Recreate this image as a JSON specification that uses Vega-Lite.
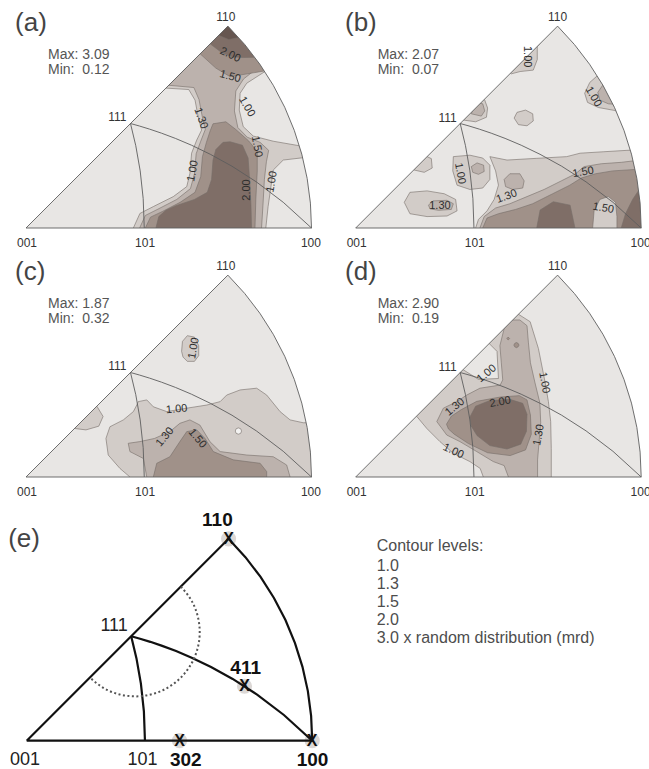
{
"$schema":"https://vega.github.io/schema/vega-lite/v6.json",
"background":"white",
"padding":0,
"spacing":0,
"config":{"view":{"stroke":null},"font":"Liberation Sans"},
"datasets":{
"geom":[
{"id":"tri","i":0,"x":0,"y":0},{"id":"tri","i":1,"x":1,"y":0},{"id":"tri","i":2,"x":0.99619,"y":0.08716},{"id":"tri","i":3,"x":0.98481,"y":0.17365},{"id":"tri","i":4,"x":0.96593,"y":0.25882},{"id":"tri","i":5,"x":0.93969,"y":0.34202},{"id":"tri","i":6,"x":0.90631,"y":0.42262},{"id":"tri","i":7,"x":0.86603,"y":0.5},{"id":"tri","i":8,"x":0.81915,"y":0.57358},{"id":"tri","i":9,"x":0.76604,"y":0.64279},{"id":"tri","i":10,"x":0.70711,"y":0.70711},{"id":"tri","i":11,"x":0,"y":0},
{"id":"g1","i":0,"x":0.4142,"y":0},{"id":"g1","i":1,"x":0.4105,"y":0.1026},{"id":"g1","i":2,"x":0.4,"y":0.2},{"id":"g1","i":3,"x":0.3845,"y":0.2883},{"id":"g1","i":4,"x":0.366,"y":0.366},
{"id":"g2","i":0,"x":1,"y":0},{"id":"g2","i":1,"x":0.9009,"y":0.0901},{"id":"g2","i":2,"x":0.807,"y":0.1614},{"id":"g2","i":3,"x":0.7214,"y":0.2164},{"id":"g2","i":4,"x":0.6456,"y":0.2582},{"id":"g2","i":5,"x":0.5798,"y":0.2899},{"id":"g2","i":6,"x":0.5232,"y":0.3139},{"id":"g2","i":7,"x":0.4746,"y":0.3322},{"id":"g2","i":8,"x":0.4329,"y":0.3463},{"id":"g2","i":9,"x":0.397,"y":0.3573},{"id":"g2","i":10,"x":0.366,"y":0.366}
],
"mask":[
{"i":0,"x":-0.06,"y":-0.04},{"i":1,"x":1.025,"y":-0.04},{"i":2,"x":1.025,"y":0.76},{"i":3,"x":-0.06,"y":0.76},{"i":4,"x":-0.06,"y":-0.04},{"i":5,"x":0,"y":0},{"i":6,"x":0.70711,"y":0.70711},{"i":7,"x":0.76604,"y":0.64279},{"i":8,"x":0.81915,"y":0.57358},{"i":9,"x":0.86603,"y":0.5},{"i":10,"x":0.90631,"y":0.42262},{"i":11,"x":0.93969,"y":0.34202},{"i":12,"x":0.96593,"y":0.25882},{"i":13,"x":0.98481,"y":0.17365},{"i":14,"x":0.99619,"y":0.08716},{"i":15,"x":1,"y":0},{"i":16,"x":0,"y":0}
],
"dc":[
{"i":0,"x":0.54,"y":0.54},{"i":1,"x":0.5758,"y":0.4933},{"i":2,"x":0.5983,"y":0.4389},{"i":3,"x":0.606,"y":0.3806},{"i":4,"x":0.5983,"y":0.3223},{"i":5,"x":0.5758,"y":0.2679},{"i":6,"x":0.54,"y":0.2212},{"i":7,"x":0.4933,"y":0.1854},{"i":8,"x":0.4389,"y":0.1629},{"i":9,"x":0.3806,"y":0.1552},{"i":10,"x":0.3223,"y":0.1629},{"i":11,"x":0.2679,"y":0.1854},{"i":12,"x":0.2212,"y":0.2212}
],
"pts":[
{"t":"110","x":0.7071,"y":0.7071},{"t":"411","x":0.763,"y":0.1907},{"t":"302","x":0.5352,"y":0},{"t":"100","x":1,"y":0}
],
"ca":[
{"g":"01","v":1,"i":0,"x":0.49,"y":0.49},{"g":"01","v":1,"i":1,"x":0.75,"y":0.75},{"g":"01","v":1,"i":2,"x":0.9,"y":0.6},{"g":"01","v":1,"i":3,"x":0.837,"y":0.548},{"g":"01","v":1,"i":4,"x":0.773,"y":0.507},{"g":"01","v":1,"i":5,"x":0.75,"y":0.472},{"g":"01","v":1,"i":6,"x":0.747,"y":0.413},{"g":"01","v":1,"i":7,"x":0.761,"y":0.355},{"g":"01","v":1,"i":8,"x":0.796,"y":0.322},{"g":"01","v":1,"i":9,"x":0.866,"y":0.304},{"g":"01","v":1,"i":10,"x":0.958,"y":0.288},{"g":"01","v":1,"i":11,"x":1.02,"y":0.285},{"g":"01","v":1,"i":12,"x":1.02,"y":0.245},{"g":"01","v":1,"i":13,"x":0.969,"y":0.246},{"g":"01","v":1,"i":14,"x":0.901,"y":0.238},{"g":"01","v":1,"i":15,"x":0.866,"y":0.203},{"g":"01","v":1,"i":16,"x":0.858,"y":0.145},{"g":"01","v":1,"i":17,"x":0.848,"y":0.075},{"g":"01","v":1,"i":18,"x":0.84,"y":0},{"g":"01","v":1,"i":19,"x":0.84,"y":-0.03},{"g":"01","v":1,"i":20,"x":0.376,"y":-0.03},{"g":"01","v":1,"i":21,"x":0.376,"y":0},{"g":"01","v":1,"i":22,"x":0.399,"y":0.051},{"g":"01","v":1,"i":23,"x":0.446,"y":0.075},{"g":"01","v":1,"i":24,"x":0.516,"y":0.11},{"g":"01","v":1,"i":25,"x":0.563,"y":0.145},{"g":"01","v":1,"i":26,"x":0.574,"y":0.191},{"g":"01","v":1,"i":27,"x":0.58,"y":0.262},{"g":"01","v":1,"i":28,"x":0.598,"y":0.308},{"g":"01","v":1,"i":29,"x":0.615,"y":0.343},{"g":"01","v":1,"i":30,"x":0.603,"y":0.39},{"g":"01","v":1,"i":31,"x":0.592,"y":0.448},{"g":"01","v":1,"i":32,"x":0.57,"y":0.485},
{"g":"02","v":1.3,"i":0,"x":0.5,"y":0.5},{"g":"02","v":1.3,"i":1,"x":0.75,"y":0.75},{"g":"02","v":1.3,"i":2,"x":0.9,"y":0.62},{"g":"02","v":1.3,"i":3,"x":0.822,"y":0.569},{"g":"02","v":1.3,"i":4,"x":0.762,"y":0.522},{"g":"02","v":1.3,"i":5,"x":0.735,"y":0.48},{"g":"02","v":1.3,"i":6,"x":0.73,"y":0.41},{"g":"02","v":1.3,"i":7,"x":0.742,"y":0.352},{"g":"02","v":1.3,"i":8,"x":0.775,"y":0.318},{"g":"02","v":1.3,"i":9,"x":0.82,"y":0.3},{"g":"02","v":1.3,"i":10,"x":0.85,"y":0.272},{"g":"02","v":1.3,"i":11,"x":0.842,"y":0.232},{"g":"02","v":1.3,"i":12,"x":0.835,"y":0.17},{"g":"02","v":1.3,"i":13,"x":0.83,"y":0.08},{"g":"02","v":1.3,"i":14,"x":0.825,"y":0},{"g":"02","v":1.3,"i":15,"x":0.825,"y":-0.03},{"g":"02","v":1.3,"i":16,"x":0.398,"y":-0.03},{"g":"02","v":1.3,"i":17,"x":0.398,"y":0},{"g":"02","v":1.3,"i":18,"x":0.418,"y":0.044},{"g":"02","v":1.3,"i":19,"x":0.462,"y":0.066},{"g":"02","v":1.3,"i":20,"x":0.528,"y":0.1},{"g":"02","v":1.3,"i":21,"x":0.576,"y":0.138},{"g":"02","v":1.3,"i":22,"x":0.59,"y":0.19},{"g":"02","v":1.3,"i":23,"x":0.596,"y":0.26},{"g":"02","v":1.3,"i":24,"x":0.612,"y":0.304},{"g":"02","v":1.3,"i":25,"x":0.628,"y":0.345},{"g":"02","v":1.3,"i":26,"x":0.617,"y":0.392},{"g":"02","v":1.3,"i":27,"x":0.606,"y":0.45},{"g":"02","v":1.3,"i":28,"x":0.588,"y":0.492},
{"g":"03","v":1.5,"i":0,"x":0.61,"y":0.61},{"g":"03","v":1.5,"i":1,"x":0.75,"y":0.75},{"g":"03","v":1.5,"i":2,"x":0.92,"y":0.62},{"g":"03","v":1.5,"i":3,"x":0.835,"y":0.55},{"g":"03","v":1.5,"i":4,"x":0.775,"y":0.54},{"g":"03","v":1.5,"i":5,"x":0.715,"y":0.53},{"g":"03","v":1.5,"i":6,"x":0.665,"y":0.56},
{"g":"04","v":1.5,"i":0,"x":0.655,"y":0.365},{"g":"04","v":1.5,"i":1,"x":0.7,"y":0.372},{"g":"04","v":1.5,"i":2,"x":0.735,"y":0.345},{"g":"04","v":1.5,"i":3,"x":0.78,"y":0.305},{"g":"04","v":1.5,"i":4,"x":0.81,"y":0.268},{"g":"04","v":1.5,"i":5,"x":0.81,"y":0.2},{"g":"04","v":1.5,"i":6,"x":0.805,"y":0.1},{"g":"04","v":1.5,"i":7,"x":0.802,"y":0},{"g":"04","v":1.5,"i":8,"x":0.802,"y":-0.03},{"g":"04","v":1.5,"i":9,"x":0.418,"y":-0.03},{"g":"04","v":1.5,"i":10,"x":0.418,"y":0},{"g":"04","v":1.5,"i":11,"x":0.436,"y":0.038},{"g":"04","v":1.5,"i":12,"x":0.478,"y":0.058},{"g":"04","v":1.5,"i":13,"x":0.54,"y":0.09},{"g":"04","v":1.5,"i":14,"x":0.592,"y":0.125},{"g":"04","v":1.5,"i":15,"x":0.612,"y":0.18},{"g":"04","v":1.5,"i":16,"x":0.618,"y":0.25},{"g":"04","v":1.5,"i":17,"x":0.632,"y":0.3},{"g":"04","v":1.5,"i":18,"x":0.645,"y":0.34},
{"g":"05","v":2,"i":0,"x":0.645,"y":0.645},{"g":"05","v":2,"i":1,"x":0.75,"y":0.75},{"g":"05","v":2,"i":2,"x":0.92,"y":0.64},{"g":"05","v":2,"i":3,"x":0.8,"y":0.598},{"g":"05","v":2,"i":4,"x":0.76,"y":0.597},{"g":"05","v":2,"i":5,"x":0.72,"y":0.6},{"g":"05","v":2,"i":6,"x":0.685,"y":0.615},
{"g":"06","v":2,"i":0,"x":0.715,"y":0.302},{"g":"06","v":2,"i":1,"x":0.758,"y":0.29},{"g":"06","v":2,"i":2,"x":0.778,"y":0.245},{"g":"06","v":2,"i":3,"x":0.784,"y":0.16},{"g":"06","v":2,"i":4,"x":0.788,"y":0.08},{"g":"06","v":2,"i":5,"x":0.79,"y":0},{"g":"06","v":2,"i":6,"x":0.79,"y":-0.03},{"g":"06","v":2,"i":7,"x":0.455,"y":-0.03},{"g":"06","v":2,"i":8,"x":0.455,"y":0},{"g":"06","v":2,"i":9,"x":0.465,"y":0.04},{"g":"06","v":2,"i":10,"x":0.49,"y":0.062},{"g":"06","v":2,"i":11,"x":0.525,"y":0.078},{"g":"06","v":2,"i":12,"x":0.59,"y":0.1},{"g":"06","v":2,"i":13,"x":0.635,"y":0.125},{"g":"06","v":2,"i":14,"x":0.65,"y":0.17},{"g":"06","v":2,"i":15,"x":0.655,"y":0.238},{"g":"06","v":2,"i":16,"x":0.665,"y":0.275},{"g":"06","v":2,"i":17,"x":0.69,"y":0.3},
{"g":"07","v":3,"i":0,"x":0.675,"y":0.675},{"g":"07","v":3,"i":1,"x":0.75,"y":0.75},{"g":"07","v":3,"i":2,"x":0.8,"y":0.66},{"g":"07","v":3,"i":3,"x":0.745,"y":0.667},{"g":"07","v":3,"i":4,"x":0.71,"y":0.66}
],
"cb":[
{"g":"01","v":1,"i":0,"x":0.52,"y":0.56},{"g":"01","v":1,"i":1,"x":0.545,"y":0.54},{"g":"01","v":1,"i":2,"x":0.576,"y":0.548},{"g":"01","v":1,"i":3,"x":0.622,"y":0.553},{"g":"01","v":1,"i":4,"x":0.636,"y":0.59},{"g":"01","v":1,"i":5,"x":0.636,"y":0.635},{"g":"01","v":1,"i":6,"x":0.655,"y":0.66},{"g":"01","v":1,"i":7,"x":0.64,"y":0.68},
{"g":"02","v":1,"i":0,"x":0.9,"y":0.54},{"g":"02","v":1,"i":1,"x":0.845,"y":0.532},{"g":"02","v":1,"i":2,"x":0.82,"y":0.51},{"g":"02","v":1,"i":3,"x":0.802,"y":0.472},{"g":"02","v":1,"i":4,"x":0.812,"y":0.44},{"g":"02","v":1,"i":5,"x":0.85,"y":0.422},{"g":"02","v":1,"i":6,"x":0.905,"y":0.412},{"g":"02","v":1,"i":7,"x":0.95,"y":0.4},
{"g":"03","v":1.3,"i":0,"x":0.95,"y":0.52},{"g":"03","v":1.3,"i":1,"x":0.865,"y":0.5},{"g":"03","v":1.3,"i":2,"x":0.848,"y":0.475},{"g":"03","v":1.3,"i":3,"x":0.855,"y":0.448},{"g":"03","v":1.3,"i":4,"x":0.885,"y":0.435},{"g":"03","v":1.3,"i":5,"x":0.95,"y":0.43},
{"g":"04","v":1,"i":0,"x":0.33,"y":0.4},{"g":"04","v":1,"i":1,"x":0.378,"y":0.378},{"g":"04","v":1,"i":2,"x":0.42,"y":0.372},{"g":"04","v":1,"i":3,"x":0.458,"y":0.388},{"g":"04","v":1,"i":4,"x":0.462,"y":0.42},{"g":"04","v":1,"i":5,"x":0.452,"y":0.448},{"g":"04","v":1,"i":6,"x":0.43,"y":0.47},
{"g":"05","v":1.3,"i":0,"x":0.405,"y":0.4},{"g":"05","v":1.3,"i":1,"x":0.44,"y":0.392},{"g":"05","v":1.3,"i":2,"x":0.452,"y":0.41},{"g":"05","v":1.3,"i":3,"x":0.445,"y":0.435},{"g":"05","v":1.3,"i":4,"x":0.42,"y":0.44},
{"g":"06","v":1,"i":0,"x":0.555,"y":0.385},{"g":"06","v":1,"i":1,"x":0.565,"y":0.405},{"g":"06","v":1,"i":2,"x":0.595,"y":0.413},{"g":"06","v":1,"i":3,"x":0.62,"y":0.4},{"g":"06","v":1,"i":4,"x":0.622,"y":0.375},{"g":"06","v":1,"i":5,"x":0.6,"y":0.358},{"g":"06","v":1,"i":6,"x":0.57,"y":0.362},
{"g":"07","v":1,"i":0,"x":0.18,"y":0.22},{"g":"07","v":1,"i":1,"x":0.205,"y":0.203},{"g":"07","v":1,"i":2,"x":0.24,"y":0.195},{"g":"07","v":1,"i":3,"x":0.268,"y":0.21},{"g":"07","v":1,"i":4,"x":0.265,"y":0.243},{"g":"07","v":1,"i":5,"x":0.25,"y":0.25},{"g":"07","v":1,"i":6,"x":0.23,"y":0.27},
{"g":"08","v":1,"i":0,"x":0.342,"y":0.25},{"g":"08","v":1,"i":1,"x":0.4,"y":0.255},{"g":"08","v":1,"i":2,"x":0.445,"y":0.245},{"g":"08","v":1,"i":3,"x":0.47,"y":0.22},{"g":"08","v":1,"i":4,"x":0.47,"y":0.17},{"g":"08","v":1,"i":5,"x":0.445,"y":0.14},{"g":"08","v":1,"i":6,"x":0.4,"y":0.135},{"g":"08","v":1,"i":7,"x":0.355,"y":0.15},{"g":"08","v":1,"i":8,"x":0.34,"y":0.2},
{"g":"09","v":1.3,"i":0,"x":0.405,"y":0.215},{"g":"09","v":1.3,"i":1,"x":0.425,"y":0.228},{"g":"09","v":1.3,"i":2,"x":0.448,"y":0.22},{"g":"09","v":1.3,"i":3,"x":0.45,"y":0.198},{"g":"09","v":1.3,"i":4,"x":0.43,"y":0.188},{"g":"09","v":1.3,"i":5,"x":0.41,"y":0.195},
{"g":"10","v":1,"i":0,"x":0.17,"y":0.09},{"g":"10","v":1,"i":1,"x":0.19,"y":0.125},{"g":"10","v":1,"i":2,"x":0.25,"y":0.13},{"g":"10","v":1,"i":3,"x":0.31,"y":0.12},{"g":"10","v":1,"i":4,"x":0.35,"y":0.1},{"g":"10","v":1,"i":5,"x":0.355,"y":0.06},{"g":"10","v":1,"i":6,"x":0.32,"y":0.042},{"g":"10","v":1,"i":7,"x":0.25,"y":0.04},{"g":"10","v":1,"i":8,"x":0.19,"y":0.05},
{"g":"11","v":1.3,"i":0,"x":0.255,"y":0.08},{"g":"11","v":1.3,"i":1,"x":0.27,"y":0.095},{"g":"11","v":1.3,"i":2,"x":0.32,"y":0.097},{"g":"11","v":1.3,"i":3,"x":0.342,"y":0.085},{"g":"11","v":1.3,"i":4,"x":0.335,"y":0.065},{"g":"11","v":1.3,"i":5,"x":0.29,"y":0.062},{"g":"11","v":1.3,"i":6,"x":0.26,"y":0.067},
{"g":"12","v":1,"i":0,"x":0.47,"y":0.25},{"g":"12","v":1,"i":1,"x":0.53,"y":0.238},{"g":"12","v":1,"i":2,"x":0.634,"y":0.244},{"g":"12","v":1,"i":3,"x":0.739,"y":0.25},{"g":"12","v":1,"i":4,"x":0.786,"y":0.262},{"g":"12","v":1,"i":5,"x":0.867,"y":0.267},{"g":"12","v":1,"i":6,"x":0.95,"y":0.272},{"g":"12","v":1,"i":7,"x":1.02,"y":0.275},{"g":"12","v":1,"i":8,"x":1.02,"y":-0.03},{"g":"12","v":1,"i":9,"x":0.42,"y":-0.03},{"g":"12","v":1,"i":10,"x":0.42,"y":0},{"g":"12","v":1,"i":11,"x":0.43,"y":0.03},{"g":"12","v":1,"i":12,"x":0.46,"y":0.06},{"g":"12","v":1,"i":13,"x":0.485,"y":0.1},{"g":"12","v":1,"i":14,"x":0.5,"y":0.15},{"g":"12","v":1,"i":15,"x":0.49,"y":0.2},
{"g":"13","v":1.3,"i":0,"x":0.435,"y":-0.03},{"g":"13","v":1.3,"i":1,"x":0.435,"y":0},{"g":"13","v":1.3,"i":2,"x":0.45,"y":0.04},{"g":"13","v":1.3,"i":3,"x":0.49,"y":0.07},{"g":"13","v":1.3,"i":4,"x":0.54,"y":0.085},{"g":"13","v":1.3,"i":5,"x":0.6,"y":0.11},{"g":"13","v":1.3,"i":6,"x":0.66,"y":0.135},{"g":"13","v":1.3,"i":7,"x":0.72,"y":0.165},{"g":"13","v":1.3,"i":8,"x":0.77,"y":0.19},{"g":"13","v":1.3,"i":9,"x":0.8,"y":0.215},{"g":"13","v":1.3,"i":10,"x":0.86,"y":0.225},{"g":"13","v":1.3,"i":11,"x":0.93,"y":0.23},{"g":"13","v":1.3,"i":12,"x":0.972,"y":0.235},{"g":"13","v":1.3,"i":13,"x":1.02,"y":0.235},{"g":"13","v":1.3,"i":14,"x":1.02,"y":-0.03},
{"g":"14","v":1.3,"i":0,"x":0.52,"y":0.17},{"g":"14","v":1.3,"i":1,"x":0.54,"y":0.19},{"g":"14","v":1.3,"i":2,"x":0.575,"y":0.19},{"g":"14","v":1.3,"i":3,"x":0.59,"y":0.165},{"g":"14","v":1.3,"i":4,"x":0.585,"y":0.14},{"g":"14","v":1.3,"i":5,"x":0.55,"y":0.135},{"g":"14","v":1.3,"i":6,"x":0.525,"y":0.145},
{"g":"15","v":1.5,"i":0,"x":0.445,"y":-0.03},{"g":"15","v":1.5,"i":1,"x":0.445,"y":0},{"g":"15","v":1.5,"i":2,"x":0.46,"y":0.035},{"g":"15","v":1.5,"i":3,"x":0.5,"y":0.05},{"g":"15","v":1.5,"i":4,"x":0.56,"y":0.065},{"g":"15","v":1.5,"i":5,"x":0.62,"y":0.085},{"g":"15","v":1.5,"i":6,"x":0.69,"y":0.12},{"g":"15","v":1.5,"i":7,"x":0.75,"y":0.15},{"g":"15","v":1.5,"i":8,"x":0.79,"y":0.175},{"g":"15","v":1.5,"i":9,"x":0.84,"y":0.19},{"g":"15","v":1.5,"i":10,"x":0.9,"y":0.2},{"g":"15","v":1.5,"i":11,"x":0.978,"y":0.205},{"g":"15","v":1.5,"i":12,"x":1.02,"y":0.21},{"g":"15","v":1.5,"i":13,"x":1.02,"y":-0.03},
{"g":"16","v":1,"i":0,"x":0.83,"y":-0.03},{"g":"16","v":1,"i":1,"x":0.83,"y":0},{"g":"16","v":1,"i":2,"x":0.835,"y":0.06},{"g":"16","v":1,"i":3,"x":0.855,"y":0.1},{"g":"16","v":1,"i":4,"x":0.885,"y":0.11},{"g":"16","v":1,"i":5,"x":0.91,"y":0.09},{"g":"16","v":1,"i":6,"x":0.915,"y":0.04},{"g":"16","v":1,"i":7,"x":0.915,"y":-0.03},
{"g":"17","v":2,"i":0,"x":0.634,"y":-0.03},{"g":"17","v":2,"i":1,"x":0.634,"y":0},{"g":"17","v":2,"i":2,"x":0.646,"y":0.063},{"g":"17","v":2,"i":3,"x":0.692,"y":0.092},{"g":"17","v":2,"i":4,"x":0.751,"y":0.08},{"g":"17","v":2,"i":5,"x":0.768,"y":0},{"g":"17","v":2,"i":6,"x":0.768,"y":-0.03},
{"g":"18","v":2,"i":0,"x":0.93,"y":-0.03},{"g":"18","v":2,"i":1,"x":0.93,"y":0},{"g":"18","v":2,"i":2,"x":0.945,"y":0.05},{"g":"18","v":2,"i":3,"x":0.97,"y":0.1},{"g":"18","v":2,"i":4,"x":0.99,"y":0.13},{"g":"18","v":2,"i":5,"x":1.02,"y":0.13},{"g":"18","v":2,"i":6,"x":1.02,"y":-0.03}
],
"cc":[
{"g":"01","v":1,"i":0,"x":0.393,"y":0.264},{"g":"01","v":1,"i":1,"x":0.423,"y":0.27},{"g":"01","v":1,"i":2,"x":0.446,"y":0.246},{"g":"01","v":1,"i":3,"x":0.493,"y":0.229},{"g":"01","v":1,"i":4,"x":0.563,"y":0.241},{"g":"01","v":1,"i":5,"x":0.633,"y":0.252},{"g":"01","v":1,"i":6,"x":0.68,"y":0.264},{"g":"01","v":1,"i":7,"x":0.703,"y":0.287},{"g":"01","v":1,"i":8,"x":0.75,"y":0.305},{"g":"01","v":1,"i":9,"x":0.808,"y":0.311},{"g":"01","v":1,"i":10,"x":0.843,"y":0.287},{"g":"01","v":1,"i":11,"x":0.89,"y":0.229},{"g":"01","v":1,"i":12,"x":0.925,"y":0.2},{"g":"01","v":1,"i":13,"x":0.971,"y":0.19},{"g":"01","v":1,"i":14,"x":1.02,"y":0.19},{"g":"01","v":1,"i":15,"x":1.02,"y":-0.03},{"g":"01","v":1,"i":16,"x":0.364,"y":-0.03},{"g":"01","v":1,"i":17,"x":0.364,"y":0},{"g":"01","v":1,"i":18,"x":0.329,"y":0.03},{"g":"01","v":1,"i":19,"x":0.288,"y":0.077},{"g":"01","v":1,"i":20,"x":0.28,"y":0.135},{"g":"01","v":1,"i":21,"x":0.294,"y":0.176},{"g":"01","v":1,"i":22,"x":0.341,"y":0.2},{"g":"01","v":1,"i":23,"x":0.376,"y":0.229},{"g":"01","v":1,"i":24,"x":0.388,"y":0.252},
{"g":"02","v":1,"i":0,"x":0.545,"y":0.44},{"g":"02","v":1,"i":1,"x":0.548,"y":0.475},{"g":"02","v":1,"i":2,"x":0.565,"y":0.495},{"g":"02","v":1,"i":3,"x":0.59,"y":0.49},{"g":"02","v":1,"i":4,"x":0.605,"y":0.46},{"g":"02","v":1,"i":5,"x":0.605,"y":0.425},{"g":"02","v":1,"i":6,"x":0.59,"y":0.405},{"g":"02","v":1,"i":7,"x":0.565,"y":0.405},{"g":"02","v":1,"i":8,"x":0.55,"y":0.42},
{"g":"03","v":1,"i":0,"x":0.15,"y":0.19},{"g":"03","v":1,"i":1,"x":0.17,"y":0.17},{"g":"03","v":1,"i":2,"x":0.21,"y":0.165},{"g":"03","v":1,"i":3,"x":0.255,"y":0.178},{"g":"03","v":1,"i":4,"x":0.27,"y":0.212},{"g":"03","v":1,"i":5,"x":0.25,"y":0.245},{"g":"03","v":1,"i":6,"x":0.23,"y":0.27},
{"g":"04","v":1.3,"i":0,"x":0.423,"y":-0.03},{"g":"04","v":1.3,"i":1,"x":0.423,"y":0},{"g":"04","v":1.3,"i":2,"x":0.411,"y":0.065},{"g":"04","v":1.3,"i":3,"x":0.364,"y":0.089},{"g":"04","v":1.3,"i":4,"x":0.358,"y":0.118},{"g":"04","v":1.3,"i":5,"x":0.399,"y":0.124},{"g":"04","v":1.3,"i":6,"x":0.45,"y":0.135},{"g":"04","v":1.3,"i":7,"x":0.504,"y":0.159},{"g":"04","v":1.3,"i":8,"x":0.539,"y":0.188},{"g":"04","v":1.3,"i":9,"x":0.574,"y":0.2},{"g":"04","v":1.3,"i":10,"x":0.609,"y":0.182},{"g":"04","v":1.3,"i":11,"x":0.644,"y":0.124},{"g":"04","v":1.3,"i":12,"x":0.68,"y":0.089},{"g":"04","v":1.3,"i":13,"x":0.773,"y":0.077},{"g":"04","v":1.3,"i":14,"x":0.866,"y":0.071},{"g":"04","v":1.3,"i":15,"x":0.913,"y":0.042},{"g":"04","v":1.3,"i":16,"x":0.925,"y":0},{"g":"04","v":1.3,"i":17,"x":0.925,"y":-0.03},
{"g":"05","v":1.5,"i":0,"x":0.446,"y":-0.03},{"g":"05","v":1.5,"i":1,"x":0.446,"y":0},{"g":"05","v":1.5,"i":2,"x":0.458,"y":0.048},{"g":"05","v":1.5,"i":3,"x":0.504,"y":0.071},{"g":"05","v":1.5,"i":4,"x":0.539,"y":0.124},{"g":"05","v":1.5,"i":5,"x":0.563,"y":0.159},{"g":"05","v":1.5,"i":6,"x":0.598,"y":0.165},{"g":"05","v":1.5,"i":7,"x":0.627,"y":0.135},{"g":"05","v":1.5,"i":8,"x":0.656,"y":0.089},{"g":"05","v":1.5,"i":9,"x":0.726,"y":0.06},{"g":"05","v":1.5,"i":10,"x":0.82,"y":0.048},{"g":"05","v":1.5,"i":11,"x":0.843,"y":0.019},{"g":"05","v":1.5,"i":12,"x":0.843,"y":0},{"g":"05","v":1.5,"i":13,"x":0.843,"y":-0.03},
{"g":"06","v":0,"i":0,"x":0.733,"y":0.161},{"g":"06","v":0,"i":1,"x":0.736,"y":0.169},{"g":"06","v":0,"i":2,"x":0.744,"y":0.172},{"g":"06","v":0,"i":3,"x":0.752,"y":0.169},{"g":"06","v":0,"i":4,"x":0.755,"y":0.161},{"g":"06","v":0,"i":5,"x":0.752,"y":0.153},{"g":"06","v":0,"i":6,"x":0.744,"y":0.15},{"g":"06","v":0,"i":7,"x":0.736,"y":0.153}
],
"cd":[
{"g":"01","v":1,"i":0,"x":0.54,"y":0.6},{"g":"01","v":1,"i":1,"x":0.57,"y":0.57},{"g":"01","v":1,"i":2,"x":0.611,"y":0.544},{"g":"01","v":1,"i":3,"x":0.64,"y":0.45},{"g":"01","v":1,"i":4,"x":0.663,"y":0.334},{"g":"01","v":1,"i":5,"x":0.675,"y":0.264},{"g":"01","v":1,"i":6,"x":0.683,"y":0.194},{"g":"01","v":1,"i":7,"x":0.685,"y":0.1},{"g":"01","v":1,"i":8,"x":0.685,"y":0},{"g":"01","v":1,"i":9,"x":0.685,"y":-0.03},{"g":"01","v":1,"i":10,"x":0.447,"y":-0.03},{"g":"01","v":1,"i":11,"x":0.447,"y":0},{"g":"01","v":1,"i":12,"x":0.436,"y":0.03},{"g":"01","v":1,"i":13,"x":0.4,"y":0.054},{"g":"01","v":1,"i":14,"x":0.342,"y":0.083},{"g":"01","v":1,"i":15,"x":0.295,"y":0.124},{"g":"01","v":1,"i":16,"x":0.249,"y":0.17},{"g":"01","v":1,"i":17,"x":0.214,"y":0.212},{"g":"01","v":1,"i":18,"x":0.18,"y":0.24},{"g":"01","v":1,"i":19,"x":0.33,"y":0.39},{"g":"01","v":1,"i":20,"x":0.376,"y":0.376},{"g":"01","v":1,"i":21,"x":0.43,"y":0.342},{"g":"01","v":1,"i":22,"x":0.5,"y":0.345},{"g":"01","v":1,"i":23,"x":0.495,"y":0.44},{"g":"01","v":1,"i":24,"x":0.465,"y":0.47},{"g":"01","v":1,"i":25,"x":0.44,"y":0.5},
{"g":"02","v":1.3,"i":0,"x":0.284,"y":0.194},{"g":"02","v":1.3,"i":1,"x":0.307,"y":0.241},{"g":"02","v":1.3,"i":2,"x":0.354,"y":0.264},{"g":"02","v":1.3,"i":3,"x":0.389,"y":0.287},{"g":"02","v":1.3,"i":4,"x":0.435,"y":0.311},{"g":"02","v":1.3,"i":5,"x":0.506,"y":0.322},{"g":"02","v":1.3,"i":6,"x":0.515,"y":0.34},{"g":"02","v":1.3,"i":7,"x":0.51,"y":0.4},{"g":"02","v":1.3,"i":8,"x":0.505,"y":0.46},{"g":"02","v":1.3,"i":9,"x":0.52,"y":0.52},{"g":"02","v":1.3,"i":10,"x":0.545,"y":0.55},{"g":"02","v":1.3,"i":11,"x":0.575,"y":0.55},{"g":"02","v":1.3,"i":12,"x":0.6,"y":0.53},{"g":"02","v":1.3,"i":13,"x":0.605,"y":0.47},{"g":"02","v":1.3,"i":14,"x":0.612,"y":0.4},{"g":"02","v":1.3,"i":15,"x":0.628,"y":0.33},{"g":"02","v":1.3,"i":16,"x":0.645,"y":0.26},{"g":"02","v":1.3,"i":17,"x":0.648,"y":0.19},{"g":"02","v":1.3,"i":18,"x":0.642,"y":0.12},{"g":"02","v":1.3,"i":19,"x":0.637,"y":0.06},{"g":"02","v":1.3,"i":20,"x":0.637,"y":0},{"g":"02","v":1.3,"i":21,"x":0.637,"y":-0.03},{"g":"02","v":1.3,"i":22,"x":0.535,"y":-0.03},{"g":"02","v":1.3,"i":23,"x":0.535,"y":0},{"g":"02","v":1.3,"i":24,"x":0.52,"y":0.04},{"g":"02","v":1.3,"i":25,"x":0.482,"y":0.054},{"g":"02","v":1.3,"i":26,"x":0.424,"y":0.089},{"g":"02","v":1.3,"i":27,"x":0.365,"y":0.124},{"g":"02","v":1.3,"i":28,"x":0.319,"y":0.147},
{"g":"03","v":1.5,"i":0,"x":0.318,"y":0.185},{"g":"03","v":1.5,"i":1,"x":0.335,"y":0.213},{"g":"03","v":1.5,"i":2,"x":0.37,"y":0.236},{"g":"03","v":1.5,"i":3,"x":0.424,"y":0.265},{"g":"03","v":1.5,"i":4,"x":0.506,"y":0.28},{"g":"03","v":1.5,"i":5,"x":0.573,"y":0.285},{"g":"03","v":1.5,"i":6,"x":0.6,"y":0.27},{"g":"03","v":1.5,"i":7,"x":0.612,"y":0.217},{"g":"03","v":1.5,"i":8,"x":0.615,"y":0.15},{"g":"03","v":1.5,"i":9,"x":0.595,"y":0.095},{"g":"03","v":1.5,"i":10,"x":0.541,"y":0.075},{"g":"03","v":1.5,"i":11,"x":0.462,"y":0.085},{"g":"03","v":1.5,"i":12,"x":0.395,"y":0.117},{"g":"03","v":1.5,"i":13,"x":0.345,"y":0.15},{"g":"03","v":1.5,"i":14,"x":0.325,"y":0.168},
{"g":"04","v":2,"i":0,"x":0.4,"y":0.21},{"g":"04","v":2,"i":1,"x":0.42,"y":0.248},{"g":"04","v":2,"i":2,"x":0.47,"y":0.268},{"g":"04","v":2,"i":3,"x":0.54,"y":0.272},{"g":"04","v":2,"i":4,"x":0.585,"y":0.258},{"g":"04","v":2,"i":5,"x":0.6,"y":0.22},{"g":"04","v":2,"i":6,"x":0.598,"y":0.16},{"g":"04","v":2,"i":7,"x":0.578,"y":0.115},{"g":"04","v":2,"i":8,"x":0.53,"y":0.098},{"g":"04","v":2,"i":9,"x":0.47,"y":0.11},{"g":"04","v":2,"i":10,"x":0.425,"y":0.145},{"g":"04","v":2,"i":11,"x":0.405,"y":0.178},
{"g":"05","v":1.5,"i":0,"x":0.554,"y":0.462},{"g":"05","v":1.5,"i":1,"x":0.557,"y":0.468},{"g":"05","v":1.5,"i":2,"x":0.563,"y":0.471},{"g":"05","v":1.5,"i":3,"x":0.569,"y":0.468},{"g":"05","v":1.5,"i":4,"x":0.572,"y":0.462},{"g":"05","v":1.5,"i":5,"x":0.569,"y":0.456},{"g":"05","v":1.5,"i":6,"x":0.563,"y":0.453},{"g":"05","v":1.5,"i":7,"x":0.557,"y":0.456},
{"g":"06","v":1.5,"i":0,"x":0.529,"y":0.485},{"g":"06","v":1.5,"i":1,"x":0.534,"y":0.49},{"g":"06","v":1.5,"i":2,"x":0.539,"y":0.485},{"g":"06","v":1.5,"i":3,"x":0.534,"y":0.48}
],
"ta":[
{"k":"p","t":"(a)","x":-0.0385,"y":0.718},{"k":"m","t":"Max: 3.09","x":0.077,"y":0.606},{"k":"m","t":"Min:\u00a0 0.12","x":0.077,"y":0.553},
{"k":"v","t":"110","x":0.7,"y":0.739},{"k":"v","t":"111","x":0.32,"y":0.389},{"k":"v","t":"001","x":0.0035,"y":-0.0525},{"k":"v","t":"101","x":0.417,"y":-0.0525},{"k":"v","t":"100","x":0.998,"y":-0.0525},
{"k":"c","t":"2.00","x":0.715,"y":0.606,"a":25},{"k":"c","t":"1.50","x":0.715,"y":0.53,"a":15},{"k":"c","t":"1.30","x":0.612,"y":0.384,"a":70},{"k":"c","t":"1.00","x":0.773,"y":0.425,"a":60},{"k":"c","t":"1.00","x":0.585,"y":0.2,"a":280},{"k":"c","t":"1.50","x":0.808,"y":0.285,"a":80},{"k":"c","t":"2.00","x":0.775,"y":0.133,"a":270},{"k":"c","t":"1.00","x":0.862,"y":0.162,"a":280}
],
"tb":[
{"k":"p","t":"(b)","x":-0.0375,"y":0.718},{"k":"m","t":"Max: 2.07","x":0.077,"y":0.606},{"k":"m","t":"Min:\u00a0 0.07","x":0.077,"y":0.553},
{"k":"v","t":"110","x":0.707,"y":0.739},{"k":"v","t":"111","x":0.322,"y":0.385},{"k":"v","t":"001","x":0.0035,"y":-0.0525},{"k":"v","t":"101","x":0.417,"y":-0.0525},{"k":"v","t":"100","x":0.998,"y":-0.0525},
{"k":"c","t":"1.00","x":0.6,"y":0.6,"a":90},{"k":"c","t":"1.00","x":0.832,"y":0.46,"a":60},{"k":"c","t":"1.00","x":0.365,"y":0.191,"a":80},{"k":"c","t":"1.30","x":0.295,"y":0.078,"a":0},{"k":"c","t":"1.30","x":0.529,"y":0.11,"a":340},{"k":"c","t":"1.50","x":0.797,"y":0.195,"a":350},{"k":"c","t":"1.50","x":0.867,"y":0.069,"a":10}
],
"tc":[
{"k":"p","t":"(c)","x":-0.0385,"y":0.718},{"k":"m","t":"Max: 1.87","x":0.077,"y":0.606},{"k":"m","t":"Min:\u00a0 0.32","x":0.077,"y":0.553},
{"k":"v","t":"110","x":0.7,"y":0.739},{"k":"v","t":"111","x":0.32,"y":0.389},{"k":"v","t":"001","x":0.0035,"y":-0.0525},{"k":"v","t":"101","x":0.417,"y":-0.0525},{"k":"v","t":"100","x":0.998,"y":-0.0525},
{"k":"c","t":"1.00","x":0.588,"y":0.451,"a":280},{"k":"c","t":"1.00","x":0.528,"y":0.237,"a":355},{"k":"c","t":"1.30","x":0.487,"y":0.14,"a":310},{"k":"c","t":"1.50","x":0.6,"y":0.135,"a":50}
],
"td":[
{"k":"p","t":"(d)","x":-0.0375,"y":0.718},{"k":"m","t":"Max: 2.90","x":0.077,"y":0.606},{"k":"m","t":"Min:\u00a0 0.19","x":0.077,"y":0.553},
{"k":"v","t":"110","x":0.707,"y":0.739},{"k":"v","t":"111","x":0.322,"y":0.385},{"k":"v","t":"001","x":0.0035,"y":-0.0525},{"k":"v","t":"101","x":0.417,"y":-0.0525},{"k":"v","t":"100","x":0.998,"y":-0.0525},
{"k":"c","t":"1.00","x":0.459,"y":0.362,"a":320},{"k":"c","t":"1.30","x":0.348,"y":0.245,"a":320},{"k":"c","t":"2.00","x":0.506,"y":0.262,"a":350},{"k":"c","t":"1.00","x":0.66,"y":0.33,"a":80},{"k":"c","t":"1.30","x":0.642,"y":0.147,"a":280},{"k":"c","t":"1.00","x":0.342,"y":0.09,"a":25}
],
"te":[
{"k":"p","t":"(e)","x":-0.065,"y":0.706},
{"k":"b","t":"110","x":0.668,"y":0.774},{"k":"n","t":"111","x":0.306,"y":0.401},{"k":"b","t":"411","x":0.767,"y":0.254},{"k":"n","t":"001","x":-0.006,"y":-0.068},{"k":"n","t":"101","x":0.406,"y":-0.068},{"k":"b","t":"302","x":0.557,"y":-0.068},{"k":"b","t":"100","x":1.001,"y":-0.068},
{"k":"r","t":"Contour levels:","x":1.226,"y":0.682},{"k":"r","t":"1.0","x":1.226,"y":0.613},{"k":"r","t":"1.3","x":1.226,"y":0.549},{"k":"r","t":"1.5","x":1.226,"y":0.486},{"k":"r","t":"2.0","x":1.226,"y":0.423},{"k":"r","t":"3.0 x random distribution (mrd)","x":1.226,"y":0.36}
]
},
"vconcat":[
{"hconcat":[
{"width":330,"height":247,
 "encoding":{"x":{"field":"x","type":"quantitative","scale":{"domain":[-0.09107,1.0648],"nice":false,"zero":false},"axis":null},"y":{"field":"y","type":"quantitative","scale":{"domain":[-0.06655,0.7986],"nice":false,"zero":false},"axis":null}},
 "layer":[
  {"data":{"name":"geom"},"transform":[{"filter":"datum.id=='tri'"}],"mark":{"type":"line","fill":"#e8e6e4","strokeOpacity":0,"interpolate":"linear-closed"},"encoding":{"order":{"field":"i","type":"quantitative"}}},
  {"data":{"name":"ca"},"mark":{"type":"line","interpolate":"linear-closed","stroke":"#766d68","strokeWidth":0.6},"encoding":{"detail":{"field":"g","type":"nominal"},"order":{"field":"i","type":"quantitative"},"fill":{"field":"v","type":"nominal","scale":{"domain":[0,1,1.3,1.5,2,3],"range":["#f3f2f1","#d2ccc8","#bcb2ad","#a09189","#7f6e67","#665650"]},"legend":null}}},
  {"data":{"name":"mask"},"mark":{"type":"line","fill":"white","strokeOpacity":0,"interpolate":"linear-closed"},"encoding":{"order":{"field":"i","type":"quantitative"}}},
  {"data":{"name":"geom"},"mark":{"type":"line","stroke":"#5e5e5e","strokeWidth":0.9},"encoding":{"detail":{"field":"id","type":"nominal"},"order":{"field":"i","type":"quantitative"}}},
  {"data":{"name":"ta"},"transform":[{"filter":"datum.k=='p'"}],"mark":{"type":"text","fontSize":26,"color":"#444","align":"left","baseline":"middle"},"encoding":{"text":{"field":"t"}}},
  {"data":{"name":"ta"},"transform":[{"filter":"datum.k=='m'"}],"mark":{"type":"text","fontSize":14,"color":"#555","align":"left","baseline":"middle"},"encoding":{"text":{"field":"t"}}},
  {"data":{"name":"ta"},"transform":[{"filter":"datum.k=='v'"}],"mark":{"type":"text","fontSize":12,"color":"#333","align":"center","baseline":"middle"},"encoding":{"text":{"field":"t"}}},
  {"data":{"name":"ta"},"transform":[{"filter":"datum.k=='c'"}],"mark":{"type":"text","fontSize":11,"color":"#2e2e2e","align":"center","baseline":"middle"},"encoding":{"text":{"field":"t"},"angle":{"field":"a","type":"quantitative","scale":{"domain":[0,360],"range":[0,360]}}}}
 ]},
{"width":319,"height":247,
 "encoding":{"x":{"field":"x","type":"quantitative","scale":{"domain":[-0.09002,1.02732],"nice":false,"zero":false},"axis":null},"y":{"field":"y","type":"quantitative","scale":{"domain":[-0.06655,0.7986],"nice":false,"zero":false},"axis":null}},
 "layer":[
  {"data":{"name":"geom"},"transform":[{"filter":"datum.id=='tri'"}],"mark":{"type":"line","fill":"#e8e6e4","strokeOpacity":0,"interpolate":"linear-closed"},"encoding":{"order":{"field":"i","type":"quantitative"}}},
  {"data":{"name":"cb"},"mark":{"type":"line","interpolate":"linear-closed","stroke":"#766d68","strokeWidth":0.6},"encoding":{"detail":{"field":"g","type":"nominal"},"order":{"field":"i","type":"quantitative"},"fill":{"field":"v","type":"nominal","scale":{"domain":[0,1,1.3,1.5,2,3],"range":["#f3f2f1","#d2ccc8","#bcb2ad","#a09189","#7f6e67","#665650"]},"legend":null}}},
  {"data":{"name":"mask"},"mark":{"type":"line","fill":"white","strokeOpacity":0,"interpolate":"linear-closed","clip":true},"encoding":{"order":{"field":"i","type":"quantitative"}}},
  {"data":{"name":"geom"},"mark":{"type":"line","stroke":"#5e5e5e","strokeWidth":0.9},"encoding":{"detail":{"field":"id","type":"nominal"},"order":{"field":"i","type":"quantitative"}}},
  {"data":{"name":"tb"},"transform":[{"filter":"datum.k=='p'"}],"mark":{"type":"text","fontSize":26,"color":"#444","align":"left","baseline":"middle"},"encoding":{"text":{"field":"t"}}},
  {"data":{"name":"tb"},"transform":[{"filter":"datum.k=='m'"}],"mark":{"type":"text","fontSize":14,"color":"#555","align":"left","baseline":"middle"},"encoding":{"text":{"field":"t"}}},
  {"data":{"name":"tb"},"transform":[{"filter":"datum.k=='v'"}],"mark":{"type":"text","fontSize":12,"color":"#333","align":"center","baseline":"middle","clip":true},"encoding":{"text":{"field":"t"}}},
  {"data":{"name":"tb"},"transform":[{"filter":"datum.k=='c'"}],"mark":{"type":"text","fontSize":11,"color":"#2e2e2e","align":"center","baseline":"middle"},"encoding":{"text":{"field":"t"},"angle":{"field":"a","type":"quantitative","scale":{"domain":[0,360],"range":[0,360]}}}}
 ]}
],"spacing":0,"bounds":"flush"},
{"hconcat":[
{"width":330,"height":247,
 "encoding":{"x":{"field":"x","type":"quantitative","scale":{"domain":[-0.09107,1.0648],"nice":false,"zero":false},"axis":null},"y":{"field":"y","type":"quantitative","scale":{"domain":[-0.06655,0.7986],"nice":false,"zero":false},"axis":null}},
 "layer":[
  {"data":{"name":"geom"},"transform":[{"filter":"datum.id=='tri'"}],"mark":{"type":"line","fill":"#e8e6e4","strokeOpacity":0,"interpolate":"linear-closed"},"encoding":{"order":{"field":"i","type":"quantitative"}}},
  {"data":{"name":"cc"},"mark":{"type":"line","interpolate":"linear-closed","stroke":"#766d68","strokeWidth":0.6},"encoding":{"detail":{"field":"g","type":"nominal"},"order":{"field":"i","type":"quantitative"},"fill":{"field":"v","type":"nominal","scale":{"domain":[0,1,1.3,1.5,2,3],"range":["#f3f2f1","#d2ccc8","#bcb2ad","#a09189","#7f6e67","#665650"]},"legend":null}}},
  {"data":{"name":"mask"},"mark":{"type":"line","fill":"white","strokeOpacity":0,"interpolate":"linear-closed"},"encoding":{"order":{"field":"i","type":"quantitative"}}},
  {"data":{"name":"geom"},"mark":{"type":"line","stroke":"#5e5e5e","strokeWidth":0.9},"encoding":{"detail":{"field":"id","type":"nominal"},"order":{"field":"i","type":"quantitative"}}},
  {"data":{"name":"tc"},"transform":[{"filter":"datum.k=='p'"}],"mark":{"type":"text","fontSize":26,"color":"#444","align":"left","baseline":"middle"},"encoding":{"text":{"field":"t"}}},
  {"data":{"name":"tc"},"transform":[{"filter":"datum.k=='m'"}],"mark":{"type":"text","fontSize":14,"color":"#555","align":"left","baseline":"middle"},"encoding":{"text":{"field":"t"}}},
  {"data":{"name":"tc"},"transform":[{"filter":"datum.k=='v'"}],"mark":{"type":"text","fontSize":12,"color":"#333","align":"center","baseline":"middle"},"encoding":{"text":{"field":"t"}}},
  {"data":{"name":"tc"},"transform":[{"filter":"datum.k=='c'"}],"mark":{"type":"text","fontSize":11,"color":"#2e2e2e","align":"center","baseline":"middle"},"encoding":{"text":{"field":"t"},"angle":{"field":"a","type":"quantitative","scale":{"domain":[0,360],"range":[0,360]}}}}
 ]},
{"width":319,"height":247,
 "encoding":{"x":{"field":"x","type":"quantitative","scale":{"domain":[-0.09002,1.02732],"nice":false,"zero":false},"axis":null},"y":{"field":"y","type":"quantitative","scale":{"domain":[-0.06655,0.7986],"nice":false,"zero":false},"axis":null}},
 "layer":[
  {"data":{"name":"geom"},"transform":[{"filter":"datum.id=='tri'"}],"mark":{"type":"line","fill":"#e8e6e4","strokeOpacity":0,"interpolate":"linear-closed"},"encoding":{"order":{"field":"i","type":"quantitative"}}},
  {"data":{"name":"cd"},"mark":{"type":"line","interpolate":"linear-closed","stroke":"#766d68","strokeWidth":0.6},"encoding":{"detail":{"field":"g","type":"nominal"},"order":{"field":"i","type":"quantitative"},"fill":{"field":"v","type":"nominal","scale":{"domain":[0,1,1.3,1.5,2,3],"range":["#f3f2f1","#d2ccc8","#bcb2ad","#a09189","#7f6e67","#665650"]},"legend":null}}},
  {"data":{"name":"mask"},"mark":{"type":"line","fill":"white","strokeOpacity":0,"interpolate":"linear-closed","clip":true},"encoding":{"order":{"field":"i","type":"quantitative"}}},
  {"data":{"name":"geom"},"mark":{"type":"line","stroke":"#5e5e5e","strokeWidth":0.9},"encoding":{"detail":{"field":"id","type":"nominal"},"order":{"field":"i","type":"quantitative"}}},
  {"data":{"name":"td"},"transform":[{"filter":"datum.k=='p'"}],"mark":{"type":"text","fontSize":26,"color":"#444","align":"left","baseline":"middle"},"encoding":{"text":{"field":"t"}}},
  {"data":{"name":"td"},"transform":[{"filter":"datum.k=='m'"}],"mark":{"type":"text","fontSize":14,"color":"#555","align":"left","baseline":"middle"},"encoding":{"text":{"field":"t"}}},
  {"data":{"name":"td"},"transform":[{"filter":"datum.k=='v'"}],"mark":{"type":"text","fontSize":12,"color":"#333","align":"center","baseline":"middle","clip":true},"encoding":{"text":{"field":"t"}}},
  {"data":{"name":"td"},"transform":[{"filter":"datum.k=='c'"}],"mark":{"type":"text","fontSize":11,"color":"#2e2e2e","align":"center","baseline":"middle"},"encoding":{"text":{"field":"t"},"angle":{"field":"a","type":"quantitative","scale":{"domain":[0,360],"range":[0,360]}}}}
 ]}
],"spacing":0,"bounds":"flush"},
{"width":649,"height":275,
 "encoding":{"x":{"field":"x","type":"quantitative","scale":{"domain":[-0.09352,2.17968],"nice":false,"zero":false},"axis":null},"y":{"field":"y","type":"quantitative","scale":{"domain":[-0.11313,0.85009],"nice":false,"zero":false},"axis":null}},
 "layer":[
  {"data":{"name":"pts"},"mark":{"type":"point","filled":true,"color":"#dcd8d6","size":230,"opacity":1}},
  {"data":{"name":"geom"},"mark":{"type":"line","stroke":"#111","strokeWidth":2.2},"encoding":{"detail":{"field":"id","type":"nominal"},"order":{"field":"i","type":"quantitative"}}},
  {"data":{"name":"dc"},"mark":{"type":"line","stroke":"#555","strokeWidth":2,"strokeDash":[2,2.5],"interpolate":"natural"},"encoding":{"order":{"field":"i","type":"quantitative"}}},
  {"data":{"name":"pts"},"mark":{"type":"text","fontSize":16,"fontWeight":"bold","color":"#111","align":"center","baseline":"middle"},"encoding":{"text":{"value":"X"}}},
  {"data":{"name":"te"},"transform":[{"filter":"datum.k=='p'"}],"mark":{"type":"text","fontSize":26,"color":"#444","align":"left","baseline":"middle"},"encoding":{"text":{"field":"t"}}},
  {"data":{"name":"te"},"transform":[{"filter":"datum.k=='n'"}],"mark":{"type":"text","fontSize":18,"color":"#222","align":"center","baseline":"middle"},"encoding":{"text":{"field":"t"}}},
  {"data":{"name":"te"},"transform":[{"filter":"datum.k=='b'"}],"mark":{"type":"text","fontSize":19,"fontWeight":"bold","color":"#111","align":"center","baseline":"middle"},"encoding":{"text":{"field":"t"}}},
  {"data":{"name":"te"},"transform":[{"filter":"datum.k=='r'"}],"mark":{"type":"text","fontSize":16,"color":"#4d4d4d","align":"left","baseline":"middle"},"encoding":{"text":{"field":"t"}}}
 ]}
]
}
